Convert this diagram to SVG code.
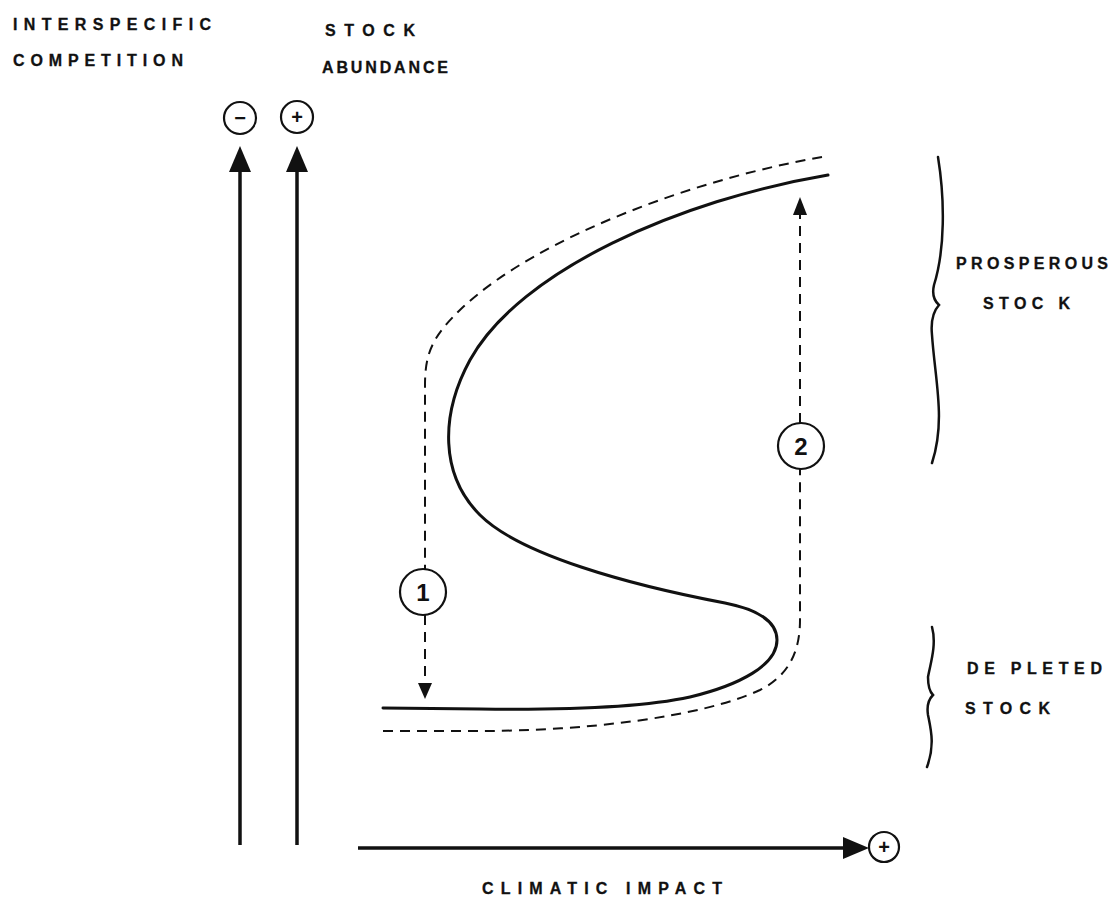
<svg xmlns="http://www.w3.org/2000/svg" width="1117" height="910" viewBox="0 0 1117 910">
<style>
.lbl{font-family:"Liberation Sans",Arial,sans-serif;font-weight:bold;font-size:16px;fill:#111;stroke:#111;stroke-width:0.3}
.num{font-family:"Liberation Sans",Arial,sans-serif;font-weight:bold;font-size:24px;fill:#111;text-anchor:middle}
.sym{font-family:"Liberation Sans",Arial,sans-serif;font-weight:bold;font-size:20px;fill:#111;text-anchor:middle}
.solid{fill:none;stroke:#111;stroke-width:3;stroke-linecap:round;stroke-linejoin:round}
.dash{fill:none;stroke:#111;stroke-width:2;stroke-dasharray:10 7}
.axis{fill:none;stroke:#111;stroke-width:3.5}
.circ{fill:#fff;stroke:#111;stroke-width:2.2}
.brace{fill:none;stroke:#111;stroke-width:2.5;stroke-linecap:round}
.head{fill:#111}
</style>
<rect width="1117" height="910" fill="#fff"/>
<g id="labels">
<text class="lbl" x="13" y="30" textLength="198" lengthAdjust="spacing">INTERSPECIFIC</text>
<text class="lbl" x="13" y="66" textLength="170" lengthAdjust="spacing">COMPETITION</text>
<text class="lbl" x="325" y="36" textLength="90" lengthAdjust="spacing">STOCK</text>
<text class="lbl" x="322" y="73" textLength="126" lengthAdjust="spacing">ABUNDANCE</text>
<text class="lbl" x="482" y="894" textLength="240" lengthAdjust="spacing">CLIMATIC IMPACT</text>
</g>
<g id="axis-competition">
<line class="axis" x1="240" y1="845" x2="240" y2="168"/>
<polygon class="head" points="240,146 229,172 251,172"/>
<circle class="circ" cx="240" cy="118" r="16"/>
<text class="sym" x="240" y="125">−</text>
</g>
<g id="axis-abundance">
<line class="axis" x1="297" y1="845" x2="297" y2="168"/>
<polygon class="head" points="297,146 286,172 308,172"/>
<circle class="circ" cx="297" cy="117" r="16"/>
<text class="sym" x="297" y="124">+</text>
</g>
<g id="axis-climate">
<line class="axis" x1="358" y1="848" x2="846" y2="848"/>
<polygon class="head" points="869,848 843,837 843,859"/>
<circle class="circ" cx="884" cy="847" r="15"/>
<text class="sym" x="884" y="854">+</text>
</g>
<g id="connectors">
<path class="solid" d="M828,175 C680,200 520,270 470,360 C440,415 440,475 480,515 C520,555 630,585 725,603 C760,610 777,622 777,640 C777,665 740,685 690,697 C640,708 560,710 480,709 L383,708"/>
<path class="dash" d="M822,157 C700,178 540,235 462,308 C433,336 425,352 425,385 L425,570"/>
<path class="dash" d="M425,615 L425,684"/>
<polygon class="head" points="425,699 418,683 432,683"/>
<path class="dash" d="M383,731 L480,731 C580,731 700,718 760,690 C790,675 800,650 800,620 L800,469"/>
<path class="dash" d="M800,423 L800,214"/>
<polygon class="head" points="800,197 793,215 807,215"/>
</g>
<g id="node-1">
<circle class="circ" cx="423" cy="592" r="23"/>
<text class="num" x="423" y="601">1</text>
</g>
<g id="node-2">
<circle class="circ" cx="801" cy="446" r="23"/>
<text class="num" x="801" y="455">2</text>
</g>
<g id="prosperous">
<path class="brace" d="M938,157 C945,200 945,250 934,285 Q931,298 939,305 Q930,315 932,335 C935,380 946,420 932,463"/>
<text class="lbl" x="956" y="269" textLength="152" lengthAdjust="spacing">PROSPEROUS</text>
<text class="lbl" x="983" y="309" textLength="87" lengthAdjust="spacing">STOC K</text>
</g>
<g id="depleted">
<path class="brace" d="M932,627 C937,645 930,665 928,677 Q928,690 933,695 Q926,702 928,715 C931,730 935,745 927,767"/>
<text class="lbl" x="967" y="674" textLength="135" lengthAdjust="spacing">DE PLETED</text>
<text class="lbl" x="965" y="714" textLength="85" lengthAdjust="spacing">STOCK</text>
</g>
</svg>
